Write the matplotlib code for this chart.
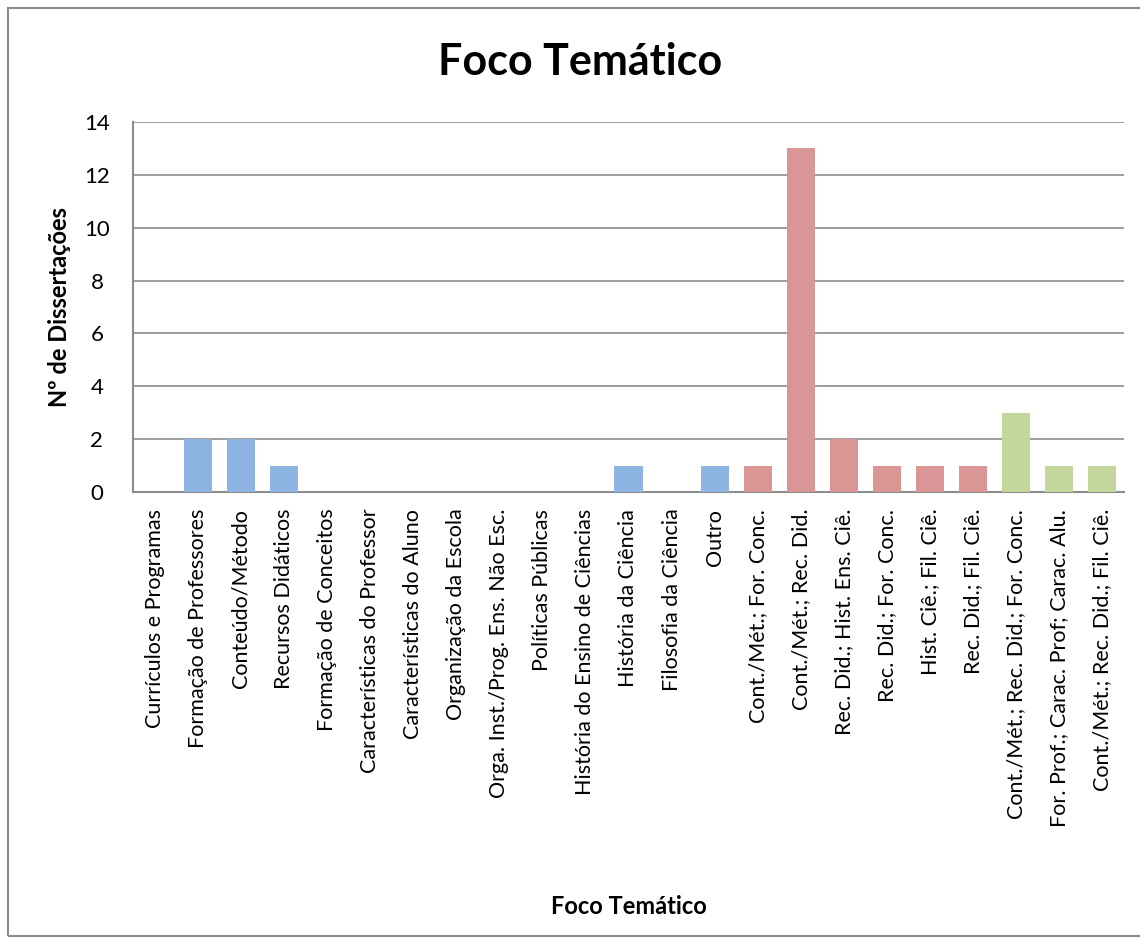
import matplotlib.pyplot as plt
import numpy as np

plt.rcParams['font.family'] = ['Lato', 'DejaVu Sans']

categorias = ['Currículos e Programas', 'Formação de Professores', 'Conteúdo/Método',
              'Recursos Didáticos', 'Formação de Conceitos', 'Características do Professor',
              'Características do Aluno', 'Organização da Escola', 'Orga. Inst./Prog. Ens. Não Esc.',
              'Políticas Públicas', 'História do Ensino de Ciências', 'História da Ciência',
              'Filosofia da Ciência', 'Outro', 'Cont./Mét.; For. Conc.', 'Cont./Mét.; Rec. Did.',
              'Rec. Did.; Hist. Ens. Ciê.', 'Rec. Did.; For. Conc.', 'Hist. Ciê.; Fil. Ciê.',
              'Rec. Did.; Fil. Ciê.', 'Cont./Mét.; Rec. Did.; For. Conc.',
              'For. Prof.; Carac. Prof; Carac. Alu.', 'Cont./Mét.; Rec. Did.; Fil. Ciê.']
valores = [0, 2, 2, 1, 0, 0, 0, 0, 0, 0, 0, 1, 0, 1, 1, 13, 2, 1, 1, 1, 3, 1, 1]
grupos = [0] * 14 + [1] * 6 + [2] * 3  # simples / duplo / triplo
cores_grupo = ['#8EB4E3', '#D99694', '#C3D69B']

fig = plt.figure(figsize=(11.4, 9.38), dpi=100)
ax = fig.add_axes([133 / 1140, 1 - 492 / 938, (1124 - 133) / 1140, (492 - 122) / 938])

x = np.arange(len(categorias))
cores = [cores_grupo[g] for g in grupos]
ax.bar(x, valores, width=0.65, color=cores, zorder=3)

ax.set_xlim(-0.5, len(categorias) - 0.5)
ax.set_ylim(0, 14)
ax.set_yticks(range(0, 15, 2))
ax.yaxis.grid(True, color='#8C8C8C', linewidth=1.2, zorder=0)
ax.set_xticks(x)
ax.set_xticklabels(categorias, rotation=90, fontsize=15.5)
ax.tick_params(axis='y', labelsize=16, length=0, pad=26)
ax.tick_params(axis='x', length=0, pad=12)
for lbl in ax.get_yticklabels():
    lbl.set_horizontalalignment('center')
for s in ['top', 'right']:
    ax.spines[s].set_visible(False)
for s in ['left', 'bottom']:
    ax.spines[s].set_color('#8C8C8C')
    ax.spines[s].set_linewidth(1.5)

ax.set_ylabel('Nº de Dissertações', fontsize=17, fontweight='bold')
ax.yaxis.set_label_coords(-62 / 991, 0.5)
ax.set_xlabel('Foco Temático', fontsize=17, fontweight='bold')
ax.xaxis.set_label_coords(0.5, -1.09)
fig.text(580 / 1140, 1 - 62 / 938, 'Foco Temático', ha='center', va='center',
         fontsize=31, fontweight='bold')

# moldura externa
fig.patches.append(plt.Rectangle((8 / 1140, 2 / 938), 1.1, 1 - 10 / 938, transform=fig.transFigure,
                                 fill=False, edgecolor='#8C8C8C', linewidth=1.5))

fig.savefig('out.png', dpi=100)
